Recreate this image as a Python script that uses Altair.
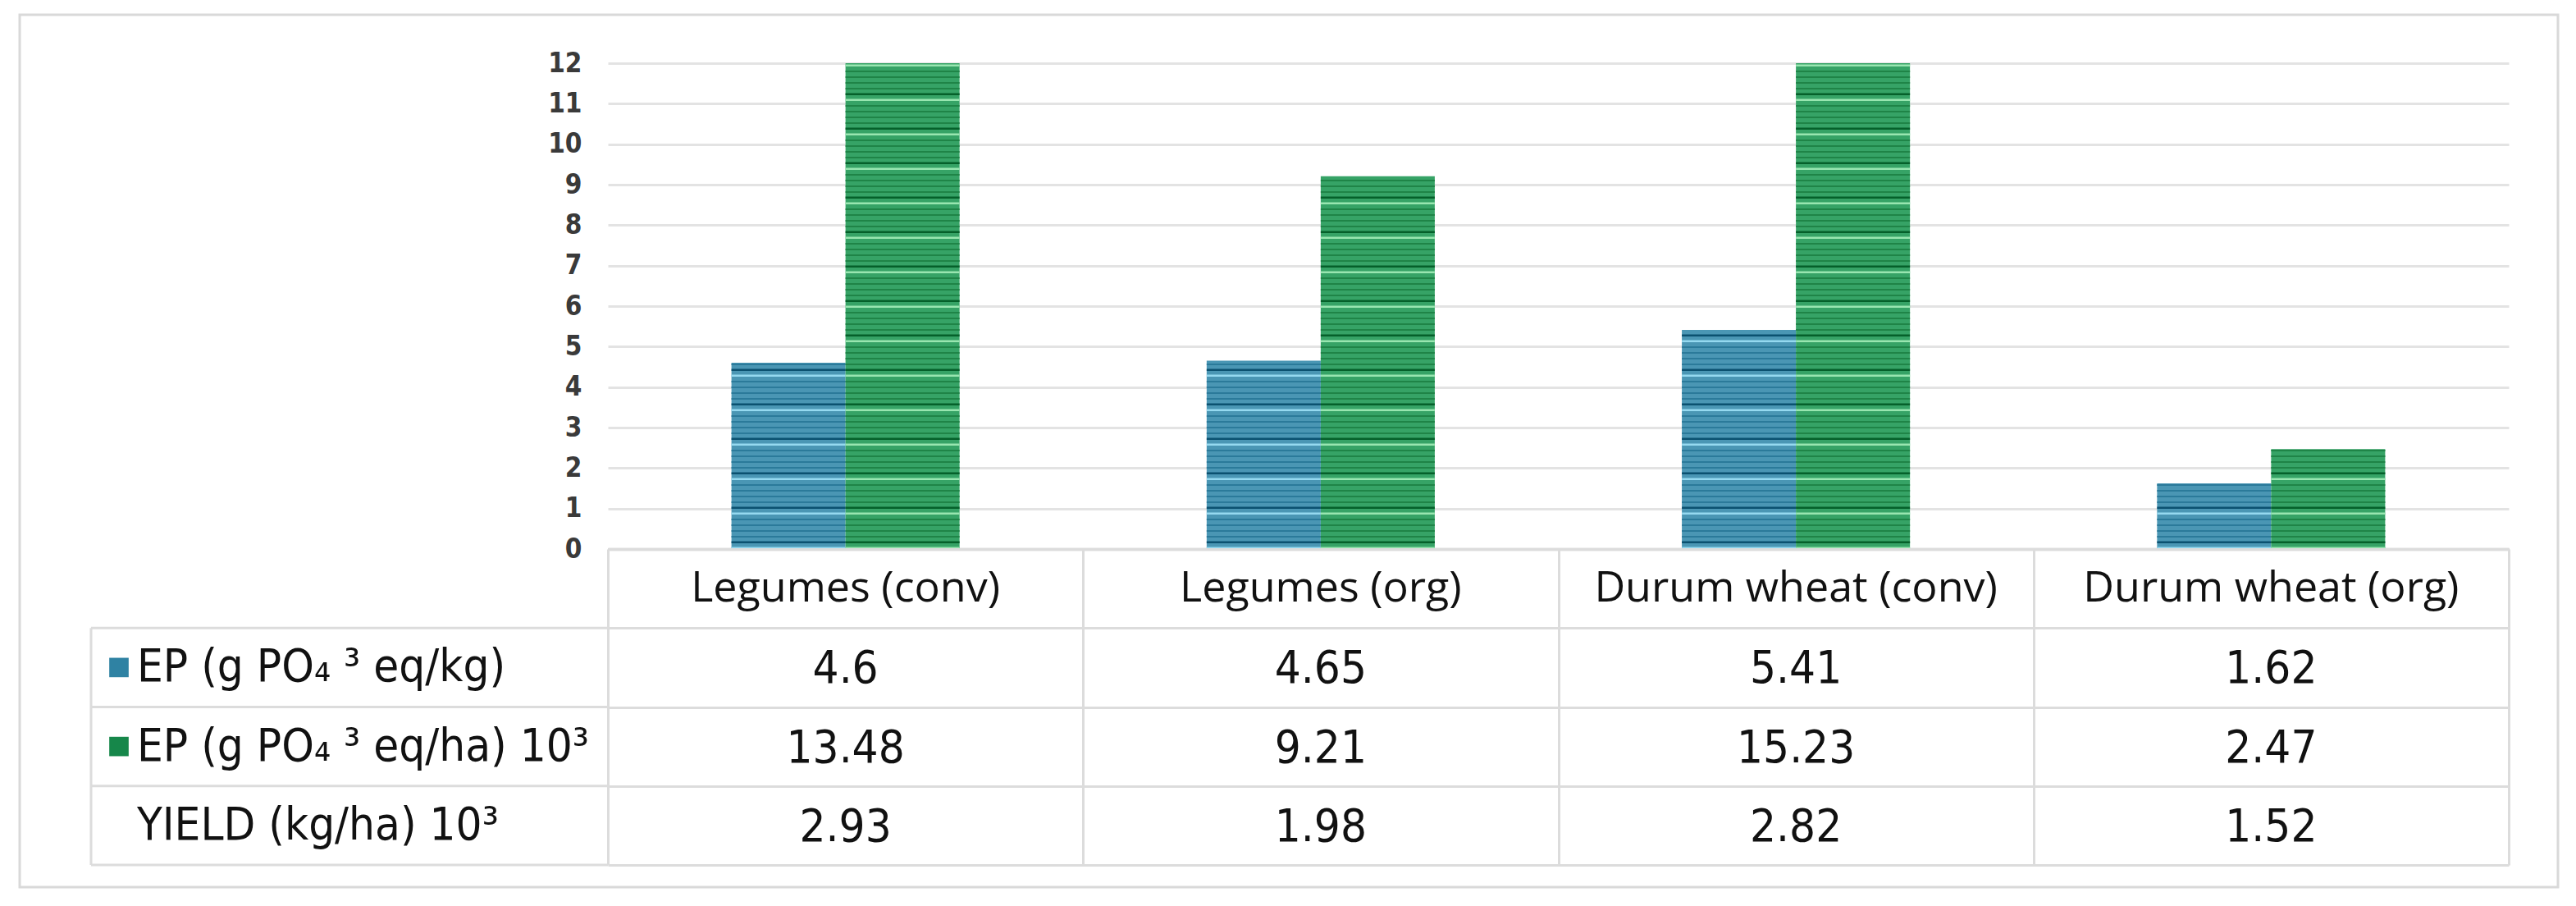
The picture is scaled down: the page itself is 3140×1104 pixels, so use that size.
import altair as alt
import pandas as pd

# ---------------- data ----------------
categories = ["Legumes (conv)", "Legumes (org)", "Durum wheat (conv)", "Durum wheat (org)"]
series_keys = ["kg", "ha"]
row_labels = ["EP (g PO₄ ³ eq/kg)", "EP (g PO₄ ³ eq/ha) 10³", "YIELD (kg/ha) 10³"]
ep_kg = [4.6, 4.65, 5.41, 1.62]
ep_ha = [13.48, 9.21, 15.23, 2.47]
yield_kha = [2.93, 1.98, 2.82, 1.52]
y_ticks = list(range(0, 13))
row_keys = ["hdr", "r1", "r2", "r3"]

# ---------------- layout constants ----------------
PLOT_W = 2317
PLOT_H = 592
TABLE_H = 385
HDR_COL = 630          # width of the row-header column of the table
PX_PER_UNIT = PLOT_H / 12.0
STEP = 7 / PX_PER_UNIT
THICK = 2.6 / PX_PER_UNIT
THIN = 2.0 / PX_PER_UNIT

NARROW = "Liberation Sans Narrow, DejaVu Sans Condensed, sans-serif"
REG = "Open Sans, Lato, sans-serif"
GRID = "#dcdcdc"

bars_df = pd.DataFrame(
    [{"cat": c, "ser": "kg", "value": v} for c, v in zip(categories, ep_kg)]
    + [{"cat": c, "ser": "ha", "value": v} for c, v in zip(categories, ep_ha)]
)

x_bar = alt.X(
    "cat:N",
    sort=categories,
    scale=alt.Scale(domain=categories, paddingInner=0.52, paddingOuter=0.26),
    axis=alt.Axis(labels=False, ticks=False, title=None, grid=False,
                  domainColor="#c4c4c4", domainWidth=3.5),
)
xoff = alt.XOffset("ser:N", scale=alt.Scale(domain=series_keys, paddingInner=0, paddingOuter=0))
y_scale = alt.Scale(domain=[0, 12], clamp=True, nice=False, zero=True)

bars = alt.Chart(bars_df).mark_bar(strokeWidth=0).encode(
    x=x_bar,
    xOffset=xoff,
    y=alt.Y(
        "value:Q",
        scale=y_scale,
        axis=alt.Axis(values=y_ticks, title=None, grid=True, gridColor="#e3e3e3", gridWidth=3,
                      domain=False, ticks=False, tickSize=0, labelFont=NARROW, labelFontSize=33,
                      labelColor="#3a3a3a", labelPadding=32, labelFlush=False, labelFontWeight="bold"),
    ),
    color=alt.Color("ser:N", scale=alt.Scale(domain=series_keys, range=["#4a96b4", "#36a366"]), legend=None),
)

color_expr = (
    "datum.ser == 'kg' ? (datum.k == 0 ? '#95d9f0' : (datum.k == 1 ? '#0b5170' : '#2b7a9a'))"
    " : (datum.k == 0 ? '#98e6b0' : (datum.k == 1 ? '#05602a' : '#1f8447'))"
)

stripes = alt.Chart(bars_df).transform_calculate(
    top="min(datum.value, 12)"
).transform_calculate(
    s=f"sequence(0, datum.top - {THICK}, {STEP})"
).transform_flatten(["s"]).transform_calculate(
    k=f"round(datum.s / {STEP}) % 6"
).transform_calculate(
    s2=f"datum.s + (datum.k < 2 ? {THICK} : {THIN})",
    col=color_expr,
).mark_bar(strokeWidth=0).encode(
    x=alt.X("cat:N", sort=categories),
    xOffset=alt.XOffset("ser:N"),
    y=alt.Y("s:Q", scale=y_scale),
    y2="s2:Q",
    fill=alt.Fill("col:N", scale=None),
)

frame = alt.Chart(pd.DataFrame({"a": [0]})).mark_rect(
    fill="transparent", stroke="#d9d9d9", strokeWidth=3
).encode(
    x=alt.value(23 - 740), x2=alt.value(3117 - 740),
    y=alt.value(17 - 76), y2=alt.value(1080 - 76),
)

top = alt.layer(frame, bars, stripes).properties(width=PLOT_W, height=PLOT_H)

# ---------------- table ----------------
tbl_rows = []
for c in categories:
    tbl_rows.append({"cat": c, "row": "hdr", "txt": c, "kind": "hdr"})
for c, a, b, y in zip(categories, ep_kg, ep_ha, yield_kha):
    tbl_rows.append({"cat": c, "row": "r1", "txt": f"{a:g}", "kind": "num"})
    tbl_rows.append({"cat": c, "row": "r2", "txt": f"{b:g}", "kind": "num"})
    tbl_rows.append({"cat": c, "row": "r3", "txt": f"{y:g}", "kind": "num"})
tbl_df = pd.DataFrame(tbl_rows)

x_tbl = alt.X(
    "cat:N", sort=categories,
    scale=alt.Scale(domain=categories, paddingInner=0, paddingOuter=0),
    axis=alt.Axis(labels=False, ticks=False, domain=False, title=None, grid=True,
                  tickBand="extent", gridColor=GRID, gridWidth=3),
)
y_tbl = alt.Y(
    "row:N", sort=row_keys,
    scale=alt.Scale(domain=row_keys, paddingInner=0, paddingOuter=0),
    axis=alt.Axis(labels=False, ticks=False, domain=False, title=None, grid=True,
                  tickBand="extent", gridColor=GRID, gridWidth=3),
)

hdr_text = alt.Chart(tbl_df).transform_filter("datum.kind == 'hdr'").mark_text(
    font=REG, fontSize=52, color="#111111", baseline="middle", align="center"
).encode(x=x_tbl, y=y_tbl, text="txt:N")

num_text = alt.Chart(tbl_df).transform_filter("datum.kind == 'num'").mark_text(
    font=NARROW, fontSize=56, color="#111111", baseline="middle", align="center", dy=2
).encode(x=alt.X("cat:N", sort=categories), y=alt.Y("row:N", sort=row_keys), text="txt:N")

rh_df = pd.DataFrame({"row": row_keys[1:], "txt": row_labels})
row_head = alt.Chart(rh_df).mark_text(
    font=NARROW, fontSize=56, color="#111111", baseline="middle", align="left"
).encode(x=alt.value(-574), y=alt.Y("row:N", sort=row_keys), text="txt:N")

sw_df = pd.DataFrame({"row": ["r1", "r2"], "col": ["#2f82a3", "#16874a"]})
swatch = alt.Chart(sw_df).mark_square(size=560, opacity=1, strokeWidth=0).encode(
    x=alt.value(-596), y=alt.Y("row:N", sort=row_keys), fill=alt.Fill("col:N", scale=None)
)

hl_df = pd.DataFrame({"row": row_keys})
hlines = alt.Chart(hl_df).mark_rule(color=GRID, strokeWidth=3).encode(
    x=alt.value(-HDR_COL), x2=alt.value(0),
    y=alt.Y("row:N", sort=row_keys, bandPosition=1),
)
vline = alt.Chart(pd.DataFrame({"a": [0]})).mark_rule(color=GRID, strokeWidth=3).encode(
    x=alt.value(-HDR_COL), y=alt.value(TABLE_H / 4), y2=alt.value(TABLE_H)
)

table = alt.layer(hlines, vline, hdr_text, num_text, row_head, swatch).properties(
    width=PLOT_W, height=TABLE_H
)

chart = alt.vconcat(top, table, spacing=0, bounds="flush").resolve_scale(
    x="independent", y="independent"
).properties(
    padding={"left": 14, "top": 8, "right": 5, "bottom": 5},
    background="white",
).configure_view(strokeWidth=0)

chart.save("out.html", embed_options={"renderer": "svg", "actions": False})
